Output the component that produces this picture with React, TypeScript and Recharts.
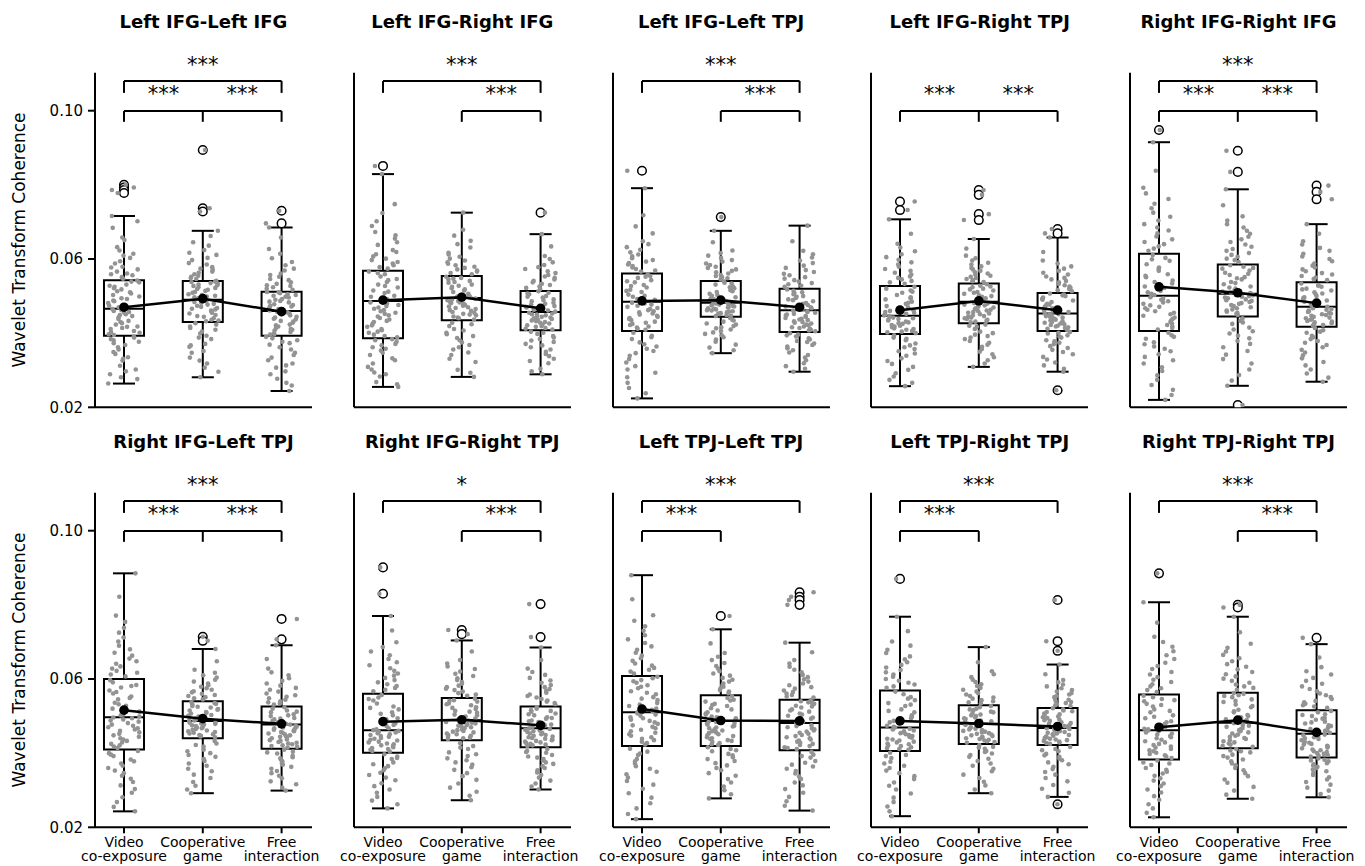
import React from 'react'
import {
  ComposedChart, XAxis, YAxis, Scatter, ReferenceArea, ReferenceLine, ReferenceDot,
} from 'recharts'

const CONDITIONS = ['Video\nco-exposure', 'Cooperative\ngame', 'Free\ninteraction']
const TITLES = [
  'Left IFG-Left IFG', 'Left IFG-Right IFG', 'Left IFG-Left TPJ', 'Left IFG-Right TPJ', 'Right IFG-Right IFG',
  'Right IFG-Left TPJ', 'Right IFG-Right TPJ', 'Left TPJ-Left TPJ', 'Left TPJ-Right TPJ', 'Right TPJ-Right TPJ',
]
const Y_TICKS = [0.02, 0.06, 0.1]

// box statistics, one row per panel: [video, cooperative, free]
const WHISKER_LO = [
  [0.0264, 0.0281, 0.0244], [0.0255, 0.0282, 0.0289], [0.0224, 0.0346, 0.0296], [0.0257, 0.0309, 0.0296], [0.0220, 0.0258, 0.0269],
  [0.0243, 0.0292, 0.0299], [0.0251, 0.0273, 0.0302], [0.0222, 0.0278, 0.0245], [0.0230, 0.0292, 0.0282], [0.0227, 0.0277, 0.0281],
]
const Q1 = [
  [0.0393, 0.0430, 0.0393], [0.0386, 0.0435, 0.0408], [0.0406, 0.0444, 0.0403], [0.0398, 0.0427, 0.0406], [0.0406, 0.0445, 0.0417],
  [0.0410, 0.0440, 0.0412], [0.0401, 0.0435, 0.0416], [0.0419, 0.0419, 0.0408], [0.0406, 0.0425, 0.0422], [0.0383, 0.0413, 0.0388],
]
const MEDIAN = [
  [0.0466, 0.0490, 0.0460], [0.0487, 0.0495, 0.0457], [0.0485, 0.0482, 0.0462], [0.0447, 0.0485, 0.0453], [0.0501, 0.0506, 0.0471],
  [0.0497, 0.0487, 0.0477], [0.0462, 0.0489, 0.0467], [0.0510, 0.0487, 0.0481], [0.0469, 0.0479, 0.0468], [0.0462, 0.0482, 0.0452],
]
const Q3 = [
  [0.0543, 0.0541, 0.0512], [0.0568, 0.0554, 0.0514], [0.0561, 0.0541, 0.0520], [0.0527, 0.0534, 0.0508], [0.0614, 0.0585, 0.0537],
  [0.0600, 0.0540, 0.0526], [0.0560, 0.0549, 0.0526], [0.0608, 0.0556, 0.0544], [0.0569, 0.0529, 0.0522], [0.0558, 0.0563, 0.0516],
]
const WHISKER_HI = [
  [0.0716, 0.0676, 0.0685], [0.0829, 0.0725, 0.0667], [0.0791, 0.0676, 0.0690], [0.0707, 0.0654, 0.0658], [0.0915, 0.0788, 0.0694],
  [0.0885, 0.0681, 0.0691], [0.0770, 0.0704, 0.0685], [0.0880, 0.0734, 0.0698], [0.0768, 0.0686, 0.0639], [0.0807, 0.0768, 0.0694],
]
const MEANS = [
  [0.0470, 0.0493, 0.0458], [0.0489, 0.0497, 0.0467], [0.0487, 0.0489, 0.0470], [0.0462, 0.0487, 0.0462], [0.0525, 0.0509, 0.0481],
  [0.0516, 0.0493, 0.0479], [0.0485, 0.0490, 0.0475], [0.0519, 0.0488, 0.0487], [0.0487, 0.0480, 0.0472], [0.0470, 0.0489, 0.0456],
]
const OUTLIERS = [
  [[0.0800, 0.0793, 0.0786, 0.0778], [0.0894, 0.0737, 0.0728], [0.0730, 0.0696]],
  [[0.0851], [], [0.0725]],
  [[0.0838], [0.0713], []],
  [[0.0755, 0.0732], [0.0786, 0.0773, 0.0721, 0.0705], [0.0681, 0.0669, 0.0246]],
  [[0.0948], [0.0892, 0.0835, 0.0206], [0.0798, 0.0781, 0.0761]],
  [[], [0.0714, 0.0703], [0.0762, 0.0707]],
  [[0.0901, 0.0830], [0.0732, 0.0721], [0.0802, 0.0713]],
  [[], [0.0770], [0.0834, 0.0822, 0.0813, 0.0800]],
  [[0.0870], [], [0.0813, 0.0702, 0.0676, 0.0262]],
  [[0.0885], [0.0800, 0.0793], [0.0711]],
]

// significance: video vs free (top bracket), then [video vs coop, coop vs free]
const SIG_TOP = ['***', '***', '***', null, '***', '***', '*', '***', '***', '***']
const SIG_PAIRS = [
  ['***', '***'], [null, '***'], [null, '***'], ['***', '***'], ['***', '***'],
  ['***', '***'], [null, '***'], ['***', null], ['***', null], [null, '***'],
]

// individual dyad coherence values (x 1e-4), per condition
const P01 = [
  [264, 276, 289, 297, 312, 326, 335, 349, 356, 368, 377, 388, 395, 401, 406, 414, 418, 427, 433, 438, 446, 451, 457, 462, 465, 470, 476, 481, 488, 494, 499, 507, 513, 518, 525, 531, 537, 542, 547, 556, 561, 572, 579, 588, 603, 614, 632, 651, 684, 716, 778, 786, 793, 800,
    281, 302, 331, 344, 362, 373, 381, 384, 391, 397, 403, 411, 417, 423, 430, 443, 449, 455, 460, 474, 486, 492, 503, 510, 521, 528, 539, 551, 559, 566, 577, 594, 609, 623, 658, 702],
  [281, 296, 318, 334, 347, 363, 371, 384, 393, 404, 414, 423, 432, 436, 444, 449, 453, 459, 464, 468, 471, 477, 482, 486, 489, 492, 497, 501, 505, 511, 514, 519, 524, 527, 531, 535, 538, 541, 546, 552, 559, 563, 571, 578, 589, 597, 611, 624, 645, 676, 728, 737, 894,
    307, 326, 352, 367, 388, 399, 409, 418, 427, 434, 440, 446, 455, 461, 466, 474, 479, 484, 494, 499, 503, 509, 517, 522, 529, 533, 539, 549, 555, 566, 574, 585, 603, 617, 636, 662],
  [244, 259, 277, 289, 307, 318, 334, 347, 356, 369, 377, 386, 396, 399, 407, 411, 418, 421, 428, 433, 437, 442, 448, 453, 458, 461, 465, 469, 474, 478, 483, 487, 492, 496, 501, 505, 508, 511, 517, 524, 529, 537, 543, 552, 561, 574, 583, 602, 627, 685, 696, 730,
    266, 297, 313, 327, 341, 362, 373, 381, 390, 397, 403, 409, 414, 423, 431, 439, 444, 451, 456, 463, 472, 476, 485, 490, 498, 503, 510, 520, 527, 533, 546, 557, 569, 592, 614, 658],
]
const P02 = [
  [255, 268, 283, 294, 309, 318, 332, 341, 353, 362, 371, 381, 389, 396, 404, 411, 417, 426, 433, 441, 448, 455, 462, 469, 476, 483, 488, 494, 501, 508, 515, 523, 531, 538, 546, 553, 559, 566, 574, 583, 592, 601, 613, 624, 638, 655, 673, 702, 748, 829, 851,
    262, 289, 302, 327, 347, 358, 367, 377, 384, 392, 401, 408, 421, 430, 437, 445, 452, 459, 466, 473, 480, 491, 498, 512, 527, 543, 562, 578, 588, 597, 607, 619, 645, 664, 689, 724],
  [282, 301, 322, 341, 356, 368, 381, 392, 401, 411, 419, 428, 437, 442, 448, 452, 457, 462, 468, 472, 476, 481, 485, 489, 493, 497, 501, 506, 511, 515, 521, 525, 531, 536, 541, 545, 549, 552, 559, 566, 572, 579, 587, 596, 606, 617, 631, 649, 679, 725,
    293, 331, 348, 362, 375, 387, 397, 407, 424, 440, 445, 450, 455, 460, 465, 470, 474, 479, 483, 487, 491, 499, 504, 518, 528, 538, 547, 562, 569, 576, 583, 591, 601, 612, 640, 663],
  [289, 304, 319, 331, 344, 356, 367, 376, 384, 392, 398, 404, 410, 414, 419, 423, 428, 432, 436, 440, 444, 448, 451, 455, 458, 461, 465, 469, 473, 477, 482, 486, 491, 496, 500, 505, 509, 513, 519, 526, 533, 541, 549, 557, 567, 578, 591, 608, 634, 667, 725,
    297, 325, 338, 350, 362, 371, 380, 388, 401, 412, 417, 421, 426, 430, 434, 438, 442, 446, 450, 453, 463, 467, 471, 479, 489, 498, 507, 522, 530, 537, 545, 553, 562, 573, 584, 600],
]
const P03 = [
  [224, 252, 281, 302, 321, 339, 352, 364, 375, 384, 393, 401, 409, 415, 422, 428, 435, 441, 447, 453, 459, 465, 471, 477, 482, 487, 492, 498, 504, 511, 517, 523, 530, 537, 543, 549, 554, 559, 566, 573, 581, 589, 597, 607, 618, 632, 648, 669, 718, 791, 838,
    238, 266, 293, 311, 330, 346, 358, 370, 389, 412, 418, 425, 431, 438, 444, 450, 456, 462, 468, 474, 480, 490, 501, 514, 527, 540, 552, 569, 577, 585, 593, 602, 612, 625, 640, 688],
  [346, 361, 377, 389, 398, 406, 413, 419, 426, 431, 436, 441, 446, 449, 453, 456, 459, 462, 466, 469, 472, 475, 478, 481, 483, 486, 489, 493, 497, 501, 506, 511, 516, 521, 526, 531, 536, 540, 545, 551, 557, 564, 572, 579, 588, 597, 609, 623, 645, 676, 713,
    354, 369, 383, 394, 402, 410, 416, 423, 434, 447, 451, 454, 458, 461, 464, 467, 470, 474, 477, 480, 485, 491, 495, 503, 513, 524, 534, 548, 554, 561, 568, 576, 584, 593, 603, 616],
  [296, 311, 327, 341, 354, 364, 372, 379, 386, 391, 396, 400, 405, 409, 414, 418, 423, 428, 432, 437, 441, 446, 450, 455, 459, 463, 467, 472, 476, 481, 486, 491, 495, 500, 505, 510, 514, 518, 525, 532, 539, 547, 556, 565, 576, 589, 604, 622, 648, 690,
    304, 319, 334, 348, 359, 368, 376, 383, 394, 407, 412, 416, 421, 426, 430, 435, 439, 444, 448, 452, 457, 461, 470, 479, 489, 498, 508, 528, 535, 543, 551, 560, 570, 582, 596, 613],
]
const P04 = [
  [257, 274, 292, 309, 325, 339, 351, 362, 372, 381, 388, 394, 400, 404, 409, 413, 418, 422, 427, 431, 436, 440, 444, 448, 452, 457, 462, 467, 473, 479, 485, 491, 497, 503, 509, 515, 520, 525, 533, 541, 549, 558, 568, 579, 591, 605, 621, 641, 668, 707, 732, 755,
    266, 283, 301, 317, 332, 345, 357, 367, 385, 402, 406, 411, 416, 420, 425, 429, 434, 438, 442, 446, 450, 455, 460, 470, 482, 494, 512, 537, 545, 553, 563, 573, 585, 598, 613, 631],
  [309, 327, 343, 357, 369, 379, 388, 396, 404, 411, 417, 423, 429, 433, 438, 442, 446, 451, 455, 459, 463, 467, 471, 475, 479, 483, 487, 490, 494, 498, 502, 506, 511, 515, 520, 524, 528, 532, 538, 543, 549, 555, 561, 568, 576, 585, 596, 609, 628, 654, 705, 721, 773, 786,
    318, 335, 350, 363, 374, 384, 392, 400, 420, 431, 436, 440, 444, 448, 453, 457, 461, 465, 469, 473, 477, 481, 492, 500, 509, 518, 526, 540, 546, 552, 558, 564, 572, 580, 590, 602],
  [246, 296, 313, 329, 343, 355, 365, 374, 381, 388, 394, 399, 403, 408, 412, 416, 420, 424, 428, 432, 436, 440, 444, 448, 451, 455, 459, 463, 467, 471, 475, 479, 484, 488, 492, 496, 500, 504, 507, 513, 519, 526, 533, 541, 549, 558, 568, 580, 596, 619, 658, 669, 681,
    304, 321, 336, 349, 360, 370, 378, 391, 401, 410, 414, 418, 422, 426, 430, 434, 438, 442, 446, 450, 453, 457, 461, 469, 477, 490, 502, 516, 522, 529, 537, 545, 553, 563, 574, 588],
]
const P05 = [
  [220, 247, 274, 298, 318, 336, 351, 364, 375, 385, 394, 401, 410, 418, 426, 434, 442, 451, 459, 467, 475, 483, 490, 497, 503, 510, 518, 526, 534, 542, 551, 559, 568, 577, 586, 595, 603, 611, 622, 634, 646, 661, 677, 694, 714, 737, 762, 792, 838, 915, 948,
    233, 260, 286, 308, 327, 343, 358, 370, 390, 414, 422, 430, 438, 447, 455, 463, 471, 479, 486, 493, 506, 514, 522, 538, 555, 573, 599, 628, 640, 653, 669, 685, 704, 725, 749, 777],
  [206, 258, 287, 318, 342, 362, 379, 393, 405, 415, 425, 433, 440, 449, 455, 461, 467, 473, 479, 484, 489, 494, 498, 502, 506, 510, 515, 520, 526, 532, 538, 545, 551, 557, 563, 569, 574, 579, 583, 592, 601, 611, 622, 633, 646, 660, 676, 694, 715, 745, 788, 835, 892,
    272, 302, 330, 352, 371, 386, 399, 410, 429, 452, 458, 464, 470, 476, 481, 487, 491, 496, 500, 504, 508, 512, 523, 535, 548, 560, 576, 597, 606, 616, 627, 639, 653, 668, 685, 704],
  [269, 291, 313, 332, 348, 362, 374, 384, 393, 401, 408, 414, 420, 424, 429, 433, 438, 442, 447, 451, 455, 459, 463, 467, 471, 475, 480, 485, 490, 495, 500, 505, 510, 515, 520, 525, 530, 534, 543, 550, 558, 567, 577, 588, 600, 614, 630, 648, 668, 694, 761, 781, 798,
    280, 302, 322, 340, 355, 368, 379, 389, 404, 422, 427, 431, 436, 440, 444, 449, 453, 457, 461, 465, 469, 477, 488, 497, 507, 518, 528, 546, 554, 562, 572, 582, 594, 607, 622, 639],
]
const P06 = [
  [243, 268, 293, 313, 331, 346, 360, 372, 383, 392, 400, 406, 414, 421, 429, 437, 444, 452, 460, 467, 474, 481, 488, 494, 499, 505, 512, 520, 528, 536, 545, 553, 561, 569, 577, 584, 591, 597, 607, 617, 628, 641, 655, 671, 690, 712, 738, 771, 822, 885,
    255, 281, 303, 322, 339, 353, 366, 378, 396, 418, 425, 433, 440, 448, 456, 464, 470, 477, 485, 491, 496, 502, 516, 532, 549, 565, 581, 612, 622, 634, 648, 663, 680, 701, 725, 754],
  [292, 312, 333, 351, 366, 379, 390, 400, 409, 418, 426, 433, 443, 447, 451, 455, 459, 463, 467, 471, 475, 479, 482, 485, 488, 491, 495, 499, 503, 507, 511, 515, 519, 523, 527, 531, 535, 538, 545, 551, 557, 564, 571, 579, 588, 598, 610, 625, 648, 681, 703, 714,
    302, 322, 342, 358, 372, 384, 395, 405, 422, 445, 449, 453, 457, 461, 465, 469, 473, 477, 480, 483, 487, 493, 501, 509, 517, 525, 533, 548, 554, 560, 567, 575, 583, 593, 604, 617],
  [299, 316, 332, 346, 358, 369, 378, 386, 393, 399, 404, 409, 415, 419, 424, 428, 433, 437, 442, 446, 451, 455, 459, 463, 467, 471, 475, 479, 483, 487, 491, 495, 500, 505, 510, 515, 520, 524, 531, 537, 544, 552, 561, 571, 582, 595, 610, 628, 654, 691, 707, 762,
    307, 324, 339, 352, 363, 373, 382, 389, 402, 417, 421, 426, 430, 435, 440, 444, 448, 453, 457, 461, 465, 469, 477, 485, 493, 502, 512, 534, 540, 548, 556, 566, 576, 588, 602, 618],
]
const P07 = [
  [251, 272, 293, 311, 327, 341, 354, 365, 375, 384, 391, 397, 404, 409, 414, 419, 424, 429, 434, 439, 444, 449, 454, 458, 462, 467, 473, 480, 487, 494, 502, 510, 518, 526, 534, 542, 550, 557, 567, 576, 586, 597, 609, 622, 637, 654, 674, 699, 731, 770, 830, 901,
    262, 282, 302, 319, 334, 347, 359, 370, 387, 406, 411, 416, 421, 426, 431, 436, 441, 446, 451, 456, 460, 464, 476, 491, 506, 522, 546, 571, 581, 591, 603, 615, 629, 645, 664, 686],
  [273, 296, 318, 338, 355, 369, 381, 392, 402, 411, 419, 427, 438, 442, 447, 451, 456, 460, 464, 468, 472, 476, 480, 484, 488, 491, 495, 499, 504, 509, 514, 519, 524, 529, 534, 539, 543, 547, 555, 562, 570, 578, 587, 597, 608, 620, 634, 651, 674, 704, 721, 732,
    285, 307, 328, 346, 362, 375, 386, 397, 415, 440, 444, 449, 453, 458, 462, 466, 470, 474, 478, 482, 486, 493, 502, 512, 522, 532, 541, 558, 566, 574, 582, 592, 602, 614, 627, 642],
  [302, 318, 334, 348, 360, 371, 380, 388, 395, 401, 406, 411, 419, 423, 427, 431, 435, 439, 443, 447, 451, 455, 459, 463, 467, 471, 475, 479, 484, 488, 493, 497, 502, 507, 512, 516, 520, 524, 532, 539, 546, 554, 563, 573, 584, 596, 611, 628, 651, 685, 713, 802,
    310, 326, 341, 354, 365, 375, 384, 391, 403, 421, 425, 429, 433, 437, 441, 445, 449, 453, 457, 461, 465, 469, 477, 486, 495, 505, 514, 535, 542, 550, 558, 568, 578, 590, 603, 619],
]
const P08 = [
  [222, 251, 280, 304, 325, 343, 358, 372, 384, 395, 404, 412, 423, 431, 439, 447, 455, 463, 471, 479, 487, 494, 501, 507, 513, 520, 527, 535, 543, 551, 559, 567, 575, 583, 590, 597, 602, 606, 615, 625, 636, 649, 663, 679, 697, 718, 742, 772, 815, 880,
    236, 265, 292, 315, 334, 350, 365, 378, 399, 427, 435, 443, 451, 459, 467, 475, 483, 490, 497, 504, 510, 517, 531, 547, 563, 579, 594, 620, 630, 642, 656, 671, 688, 707, 730, 757],
  [278, 300, 321, 339, 354, 367, 379, 389, 398, 405, 411, 416, 422, 427, 433, 438, 443, 448, 454, 459, 464, 469, 474, 479, 484, 489, 494, 499, 504, 510, 515, 521, 527, 533, 539, 544, 549, 554, 562, 570, 579, 588, 598, 609, 621, 635, 651, 670, 696, 734, 770,
    289, 310, 330, 346, 360, 373, 384, 394, 408, 424, 430, 435, 440, 446, 451, 456, 461, 467, 472, 477, 481, 486, 497, 507, 518, 530, 542, 566, 574, 583, 593, 603, 615, 628, 643, 660],
  [245, 270, 293, 313, 330, 345, 358, 369, 379, 388, 396, 403, 411, 416, 422, 428, 434, 440, 446, 452, 458, 464, 470, 475, 480, 485, 490, 496, 501, 507, 512, 518, 523, 528, 533, 537, 540, 543, 550, 557, 565, 574, 583, 593, 605, 618, 633, 651, 672, 698, 800, 813, 822, 834,
    258, 282, 303, 321, 337, 352, 364, 374, 392, 414, 419, 425, 431, 437, 443, 449, 455, 461, 467, 473, 478, 483, 493, 504, 515, 526, 535, 553, 561, 569, 578, 588, 599, 611, 625, 642],
]
const P09 = [
  [230, 256, 280, 302, 321, 338, 353, 366, 377, 387, 395, 401, 409, 414, 419, 424, 429, 434, 439, 444, 449, 454, 459, 464, 469, 474, 480, 487, 494, 502, 510, 518, 527, 535, 543, 551, 559, 566, 576, 585, 595, 606, 618, 631, 645, 661, 679, 701, 729, 768, 870,
    243, 268, 291, 312, 330, 346, 360, 372, 392, 411, 416, 421, 426, 431, 437, 442, 446, 451, 456, 461, 466, 471, 483, 498, 514, 531, 547, 580, 590, 600, 612, 624, 638, 653, 670, 690],
  [292, 313, 333, 351, 366, 379, 390, 399, 406, 412, 417, 422, 428, 432, 436, 440, 444, 448, 452, 456, 460, 464, 468, 472, 476, 480, 484, 488, 492, 496, 500, 504, 508, 512, 516, 520, 524, 527, 534, 540, 547, 554, 562, 571, 581, 592, 605, 621, 645, 686,
    302, 323, 342, 358, 372, 385, 395, 403, 415, 430, 434, 438, 442, 446, 450, 454, 458, 462, 466, 470, 474, 478, 486, 494, 502, 510, 518, 537, 543, 550, 558, 566, 576, 586, 598, 613],
  [262, 282, 304, 324, 342, 357, 370, 381, 390, 398, 405, 411, 417, 425, 429, 433, 437, 441, 445, 449, 453, 457, 461, 465, 468, 471, 475, 479, 483, 487, 491, 495, 499, 503, 507, 511, 515, 518, 521, 527, 532, 538, 544, 551, 558, 566, 575, 585, 597, 613, 639, 676, 702, 813,
    293, 314, 333, 349, 363, 375, 385, 394, 408, 427, 431, 435, 439, 443, 447, 451, 455, 459, 463, 467, 470, 473, 481, 489, 497, 505, 513, 529, 535, 541, 547, 554, 562, 570, 580, 591],
]
const P10 = [
  [227, 251, 274, 294, 311, 326, 339, 350, 360, 368, 375, 380, 387, 394, 401, 408, 415, 422, 429, 436, 443, 450, 456, 461, 466, 472, 479, 486, 494, 502, 510, 518, 526, 533, 540, 546, 551, 555, 565, 575, 586, 598, 612, 627, 644, 664, 687, 714, 752, 807, 885,
    239, 262, 284, 302, 318, 332, 345, 355, 372, 391, 398, 405, 411, 418, 425, 432, 440, 446, 453, 459, 464, 469, 483, 498, 514, 530, 543, 570, 580, 592, 605, 619, 635, 654, 675, 700],
  [277, 299, 320, 338, 354, 367, 378, 388, 396, 402, 407, 411, 417, 423, 429, 435, 441, 447, 453, 459, 465, 471, 476, 481, 486, 491, 497, 503, 510, 517, 524, 531, 538, 545, 551, 556, 560, 562, 571, 580, 590, 601, 613, 626, 640, 656, 674, 695, 726, 768, 793, 800,
    288, 309, 329, 346, 360, 372, 383, 392, 405, 420, 426, 432, 438, 444, 450, 456, 462, 468, 474, 479, 484, 489, 500, 513, 527, 541, 554, 576, 585, 595, 607, 619, 633, 648, 665, 684],
  [281, 299, 315, 329, 341, 351, 360, 367, 373, 378, 382, 386, 391, 395, 400, 405, 410, 415, 420, 425, 430, 435, 440, 445, 450, 455, 460, 465, 470, 475, 480, 485, 490, 495, 500, 505, 510, 514, 522, 529, 537, 546, 556, 567, 580, 595, 612, 632, 658, 694, 711,
    290, 307, 322, 335, 346, 356, 363, 370, 380, 393, 398, 403, 408, 413, 418, 423, 428, 433, 438, 443, 448, 453, 463, 473, 483, 493, 503, 526, 533, 541, 551, 561, 573, 587, 603, 621],
]
const POINTS = [P01, P02, P03, P04, P05, P06, P07, P08, P09, P10]

const FONT = 'DejaVu Sans'
const COL_X = [95, 353.75, 612.5, 871.25, 1130]
const ROW_Y = [0, 420]
const AXIS_W = 70
const PLOT_W = 217
const W = AXIS_W + PLOT_W + 20
const H = 446
const PLOT_TOP = 72.7
const PLOT_BOTTOM = 407.3
const Y_DOMAIN = [0.02, 0.11025]
const X_DOMAIN = [-0.368, 2.386]

// bracket levels in data units
const TOP_BAR = 0.108
const TOP_LEG = 0.1048
const TOP_TXT = 0.1135
const LOW_BAR = 0.0999
const LOW_LEG = 0.097
const LOW_TXT = 0.1057

function jitter(p: number, g: number, i: number) {
  const s = Math.sin(p * 91.7 + g * 37.3 + i * 12.9898) * 43758.5453
  return (s - Math.floor(s) - 0.5) * 0.4
}

const CondTick = (props: any) => {
  const { x, y, payload } = props
  const lines = CONDITIONS[payload.value].split('\n')
  return (
    <text x={x} y={y} textAnchor="middle" fontSize={14} fill="#000" fontFamily={FONT}>
      {lines.map((l, i) => (
        <tspan key={i} x={x} dy={i === 0 ? 12 : 14}>{l}</tspan>
      ))}
    </text>
  )
}

const ValueTick = (props: any) => {
  const { x, y, payload } = props
  return (
    <text x={x} y={y} dy="0.36em" textAnchor="end" fontSize={15} fill="#000" fontFamily={FONT}>
      {payload.value.toFixed(2)}
    </text>
  )
}

const Stars = ({ x, y, text }: { x: number; y: number; text: string }) => (
  <ReferenceDot
    x={x} y={y} r={0} ifOverflow="visible"
    shape={(p: any) => (
      <text x={p.cx} y={p.cy + 11} textAnchor="middle" fontSize={21} fill="#000" fontFamily={FONT}>{text}</text>
    )}
  />
)

const seg = (x1: number, y1: number, x2: number, y2: number, key: string) => (
  <ReferenceLine
    key={key}
    segment={[{ x: x1, y: y1 }, { x: x2, y: y2 }]}
    stroke="#000" strokeWidth={2} ifOverflow="visible"
  />
)

function Panel({ idx }: { idx: number }) {
  const col = idx % 5
  const row = Math.floor(idx / 5)
  const dots = POINTS[idx].flatMap((g, gi) => g.map((v, i) => ({ x: gi + jitter(idx, gi, i), y: v / 10000 })))
  const fliers = OUTLIERS[idx].flatMap((g, gi) => g.map((v) => ({ x: gi, y: v })))
  const means = MEANS[idx].map((m, gi) => ({ x: gi, y: m }))
  const [sig12, sig23] = SIG_PAIRS[idx]

  const boxes = [0, 1, 2].flatMap((g) => [
    <ReferenceArea key={'b' + g} x1={g - 0.254} x2={g + 0.254} y1={Q1[idx][g]} y2={Q3[idx][g]}
      fill="none" fillOpacity={0} stroke="#000" strokeWidth={2} strokeOpacity={1} ifOverflow="visible" />,
    seg(g - 0.254, MEDIAN[idx][g], g + 0.254, MEDIAN[idx][g], 'm' + g),
    seg(g, Q3[idx][g], g, WHISKER_HI[idx][g], 'wh' + g),
    seg(g, Q1[idx][g], g, WHISKER_LO[idx][g], 'wl' + g),
    seg(g - 0.14, WHISKER_HI[idx][g], g + 0.14, WHISKER_HI[idx][g], 'ch' + g),
    seg(g - 0.14, WHISKER_LO[idx][g], g + 0.14, WHISKER_LO[idx][g], 'cl' + g),
  ])

  const brackets: React.ReactNode[] = []
  if (SIG_TOP[idx]) {
    brackets.push(seg(0, TOP_BAR, 2, TOP_BAR, 'tb'), seg(0, TOP_LEG, 0, TOP_BAR, 'tl0'), seg(2, TOP_LEG, 2, TOP_BAR, 'tl2'))
    brackets.push(<Stars key="ts" x={1} y={TOP_TXT} text={SIG_TOP[idx] as string} />)
  }
  const lo = sig12 ? 0 : 1
  const hi = sig23 ? 2 : 1
  brackets.push(seg(lo, LOW_BAR, hi, LOW_BAR, 'lb'))
  for (let g = lo; g <= hi; g++) brackets.push(seg(g, LOW_LEG, g, LOW_BAR, 'll' + g))
  if (sig12) brackets.push(<Stars key="s12" x={0.5} y={LOW_TXT} text={sig12} />)
  if (sig23) brackets.push(<Stars key="s23" x={1.5} y={LOW_TXT} text={sig23} />)

  const axisStroke = { stroke: '#000', strokeWidth: 2 }

  return (
    <>
      <div style={{
        position: 'absolute', left: COL_X[col] + PLOT_W / 2 - 150, top: ROW_Y[row] + 12, width: 300,
        textAlign: 'center', fontSize: 18, lineHeight: '20px', fontWeight: 'bold', color: '#000',
      }}>{TITLES[idx]}</div>
      <div style={{ position: 'absolute', left: COL_X[col] - AXIS_W, top: ROW_Y[row], width: W, height: H }}>
        <ComposedChart width={W} height={H} margin={{ top: PLOT_TOP, right: W - AXIS_W - PLOT_W, bottom: H - PLOT_BOTTOM - 38, left: 0 }}>
          <XAxis
            type="number" dataKey="x" domain={X_DOMAIN} ticks={[0, 1, 2]} allowDataOverflow height={38}
            interval={0} tickSize={6} axisLine={axisStroke} tickLine={axisStroke}
            tick={row === 1 ? <CondTick /> : false}
          />
          <YAxis
            type="number" dataKey="y" domain={Y_DOMAIN} ticks={Y_TICKS} allowDataOverflow width={AXIS_W}
            interval={0} tickSize={7} tickMargin={5} axisLine={axisStroke} tickLine={axisStroke}
            tick={col === 0 ? <ValueTick /> : false}
          />
          {boxes}
          <Scatter
            data={fliers} isAnimationActive={false}
            shape={(p: any) => <circle cx={p.cx} cy={p.cy} r={4.3} fill="#fff" stroke="#000" strokeWidth={1.5} />}
          />
          <Scatter
            data={dots} isAnimationActive={false}
            shape={(p: any) => <circle cx={p.cx} cy={p.cy} r={2.3} fill="#939393" />}
          />
          <Scatter
            data={means} isAnimationActive={false} line={{ stroke: '#000', strokeWidth: 2.5 }}
            shape={(p: any) => <circle cx={p.cx} cy={p.cy} r={4.8} fill="#000" />}
          />
          {brackets}
        </ComposedChart>
      </div>
    </>
  )
}

export default function App() {
  return (
    <div style={{ position: 'absolute', left: 0, top: 0, width: 1365, height: 866, background: '#fff', fontFamily: FONT }}>
      {TITLES.map((_, i) => <Panel key={i} idx={i} />)}
      {ROW_Y.map((r) => (
        <div key={r} style={{
          position: 'absolute', left: 19 - 200, top: r + (PLOT_TOP + PLOT_BOTTOM) / 2 - 10, width: 400, height: 20,
          lineHeight: '20px', fontSize: 17, textAlign: 'center', color: '#000', transform: 'rotate(-90deg)',
        }}>Wavelet Transform Coherence</div>
      ))}
    </div>
  )
}
